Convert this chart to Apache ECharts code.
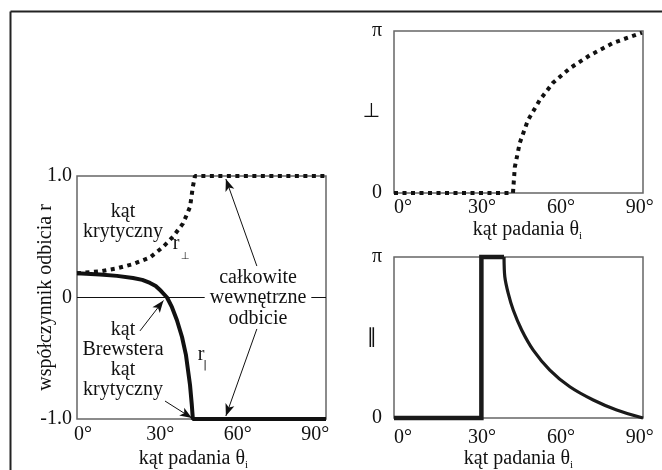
<!DOCTYPE html>
<html>
<head>
<meta charset="utf-8">
<script src="https://cdn.jsdelivr.net/npm/echarts@6/dist/echarts.min.js"></script>
<style>html,body{margin:0;padding:0;background:#fff}#c{width:662px;height:470px}</style>
</head>
<body>
<div id="c"></div>
<script>
// ---- data (angles in degrees, phases in units of π) ----
const angleTicks = [0, 30, 60, 90];
const rTicks = [-1, 0, 1];

const rPerpAngle = [-2.3, 6.6, 13.2, 19.4, 26.0, 31.0, 34.9, 38.8, 41.5, 42.6, 43.4, 94.2];
const rPerpValue = [0.20, 0.215, 0.24, 0.275, 0.33, 0.415, 0.50, 0.61, 0.745, 0.91, 1.0, 1.0];

const rParAngle = [-2.3, 6.6, 13.2, 19.4, 23.0, 26.0, 28.2, 30.2, 32.6, 34.5, 36.4, 38.4, 39.9, 41.5, 42.2, 42.6, 94.2];
const rParValue = [0.20, 0.19, 0.178, 0.16, 0.145, 0.12, 0.095, 0.055, 0.0, -0.08, -0.185, -0.325, -0.47, -0.72, -0.885, -1.0, -1.0];

const phPerpAngle = [-3.4, 41.8, 42.5, 44.4, 47.5, 52.0, 57.0, 63.4, 71.0, 79.8, 90.8];
const phPerpValue = [0, 0, 0.16, 0.31, 0.45, 0.574, 0.68, 0.77, 0.85, 0.926, 0.99];

const phParStepAngle = [-3.4, 29.8, 29.8, 38.4];
const phParStepValue = [0, 0, 1, 1];
const phParCurveAngle = [38.4, 38.7, 40.0, 41.9, 45.1, 49.5, 55.8, 63.4, 72.3, 81.2, 91.2];
const phParCurveValue = [1.0, 0.877, 0.774, 0.671, 0.547, 0.422, 0.298, 0.194, 0.112, 0.05, 0.0];

// annotation arrows (data coords of left chart): [fromX, fromY, toX, toY]
const arrows = [
  [22.1, -0.275, 31.2, -0.025],
  [31.8, -0.852, 42.2, -0.992],
  [67.4, 0.259, 55.4, 0.975],
  [67.4, -0.259, 55.4, -0.975]
];

const zip = (a, b) => a.map((v, i) => [v, b[i]]);
const FF = '"Liberation Serif", "DejaVu Serif", serif';
const TXT = '#111';

function xAx(gi, min, max, margin, gap, pad) {
  return {
    gridIndex: gi, type: 'value', min: min, max: max,
    axisLine: {show: false}, axisTick: {show: false}, splitLine: {show: false},
    axisLabel: {customValues: angleTicks, formatter: v => v + '°', margin: margin,
      fontSize: 20, fontFamily: FF, color: TXT},
    name: 'kąt padania θ{s|i}', nameLocation: 'middle', nameGap: gap, nameMoveOverlap: false,
    nameTextStyle: {fontSize: 20, fontFamily: FF, color: TXT, lineHeight: 24, padding: pad,
      rich: {s: {fontSize: 11, fontFamily: FF, color: TXT, verticalAlign: 'bottom', lineHeight: 14}}}
  };
}
function yPh(gi, sym, gap, fs) {
  return {
    gridIndex: gi, type: 'value', min: 0, max: 1, interval: 1,
    axisLine: {show: false}, axisTick: {show: false}, splitLine: {show: false},
    axisLabel: {formatter: v => v === 1 ? 'π' : '0', margin: 12, fontSize: 20, fontFamily: FF, color: TXT},
    name: sym, nameLocation: 'middle', nameRotate: 0, nameGap: gap, nameMoveOverlap: false,
    nameTextStyle: {fontSize: fs, fontFamily: '"DejaVu Sans", sans-serif', color: TXT}
  };
}
const gridStyle = {show: true, borderColor: '#666', borderWidth: 1.5, backgroundColor: 'transparent',
  containLabel: false, outerBoundsMode: 'none'};

const option = {
  animation: false,
  backgroundColor: '#fff',
  grid: [
    Object.assign({left: 77, top: 176, width: 249, height: 243}, gridStyle),
    Object.assign({left: 394, top: 31, width: 249, height: 162}, gridStyle),
    Object.assign({left: 394, top: 257, width: 249, height: 161}, gridStyle)
  ],
  xAxis: [
    xAx(0, -2.3, 94.2, 6, 28, [0, 16, 0, 0]),
    xAx(1, -3.4, 91.2, 5, 25, [0, 0, 0, 18]),
    xAx(2, -3.4, 91.2, 10, 29, [0, 0, 0, 0])
  ],
  yAxis: [
    {gridIndex: 0, type: 'value', min: -1, max: 1, interval: 1,
      axisLine: {show: false}, axisTick: {show: false}, splitLine: {show: false},
      axisLabel: {formatter: v => v === 0 ? '0' : v.toFixed(1), margin: 5, fontSize: 20, fontFamily: FF, color: TXT},
      name: 'współczynnik odbicia r', nameLocation: 'middle', nameGap: 21, nameMoveOverlap: false,
      nameTextStyle: {fontSize: 20, fontFamily: FF, color: TXT}},
    yPh(1, '⊥', 14, 20),
    yPh(2, '∥', 17, 20)
  ],
  series: [
    {type: 'line', xAxisIndex: 0, yAxisIndex: 0, data: [[-2.3, 0], [94.2, 0]], symbol: 'none', silent: true,
      lineStyle: {color: '#111', width: 1}, z: 1,
      markLine: {silent: true, symbol: ['none', 'arrow'], symbolSize: [7, 12], label: {show: false},
        lineStyle: {color: '#111', width: 1, type: 'solid'},
        data: arrows.map(a => [{coord: [a[0], a[1]]}, {coord: [a[2], a[3]]}])}},
    {type: 'line', xAxisIndex: 0, yAxisIndex: 0, data: zip(rPerpAngle, rPerpValue), symbol: 'none', clip: false,
      lineStyle: {color: '#111', width: 4, type: [4, 4.5], cap: 'butt'}},
    {type: 'line', xAxisIndex: 0, yAxisIndex: 0, data: zip(rParAngle, rParValue), symbol: 'none', clip: false,
      lineStyle: {color: '#111', width: 4}},
    {type: 'line', xAxisIndex: 1, yAxisIndex: 1, data: zip(phPerpAngle, phPerpValue), symbol: 'none', clip: false,
      lineStyle: {color: '#111', width: 4, type: [4, 4.5], cap: 'butt'}},
    {type: 'line', xAxisIndex: 2, yAxisIndex: 2, data: zip(phParStepAngle, phParStepValue), symbol: 'none', clip: false,
      lineStyle: {color: '#1a1a1a', width: 4.5, join: 'miter'}},
    {type: 'line', xAxisIndex: 2, yAxisIndex: 2, data: zip(phParCurveAngle, phParCurveValue), symbol: 'none', clip: false,
      smooth: 0.3, lineStyle: {color: '#1a1a1a', width: 3.2}}
  ],
  graphic: [
    {type: 'line', shape: {x1: 10.5, y1: 11.5, x2: 662, y2: 11.5}, style: {stroke: '#222', lineWidth: 2}},
    {type: 'line', shape: {x1: 10.5, y1: 11.5, x2: 10.5, y2: 470}, style: {stroke: '#222', lineWidth: 2}},
    {type: 'text', x: 123, y: 222, z: 10, style: {text: 'kąt\nkrytyczny', font: '20px ' + FF, fill: TXT, align: 'center', verticalAlign: 'middle', lineHeight: 20}},
    {type: 'text', x: 123, y: 360, z: 10, style: {text: 'kąt\nBrewstera\nkąt\nkrytyczny', font: '20px ' + FF, fill: TXT, align: 'center', verticalAlign: 'middle', lineHeight: 20}},
    {type: 'text', x: 258, y: 278, z: 10, style: {text: 'całkowite', font: '20px ' + FF, fill: TXT, align: 'center', verticalAlign: 'middle'}},
    {type: 'text', x: 258, y: 298, z: 10, style: {text: 'wewnętrzne', font: '20px ' + FF, fill: TXT, align: 'center', verticalAlign: 'middle', backgroundColor: '#fff', padding: [1, 5]}},
    {type: 'text', x: 258, y: 319, z: 10, style: {text: 'odbicie', font: '20px ' + FF, fill: TXT, align: 'center', verticalAlign: 'middle'}},
    {type: 'text', x: 176, y: 244, z: 10, style: {text: 'r', font: '20px ' + FF, fill: TXT, align: 'center', verticalAlign: 'middle'}},
    {type: 'text', x: 185, y: 256, z: 10, style: {text: '⊥', font: '10px "DejaVu Sans", sans-serif', fill: TXT, align: 'center', verticalAlign: 'middle'}},
    {type: 'text', x: 201, y: 355, z: 10, style: {text: 'r', font: '20px ' + FF, fill: TXT, align: 'center', verticalAlign: 'middle'}},
    {type: 'text', x: 205, y: 365, z: 10, style: {text: '|', font: '11px "DejaVu Sans", sans-serif', fill: TXT, align: 'center', verticalAlign: 'middle'}}
  ]
};

const chart = echarts.init(document.getElementById('c'), null, {renderer: 'canvas'});
chart.setOption(option);
</script>
</body>
</html>
